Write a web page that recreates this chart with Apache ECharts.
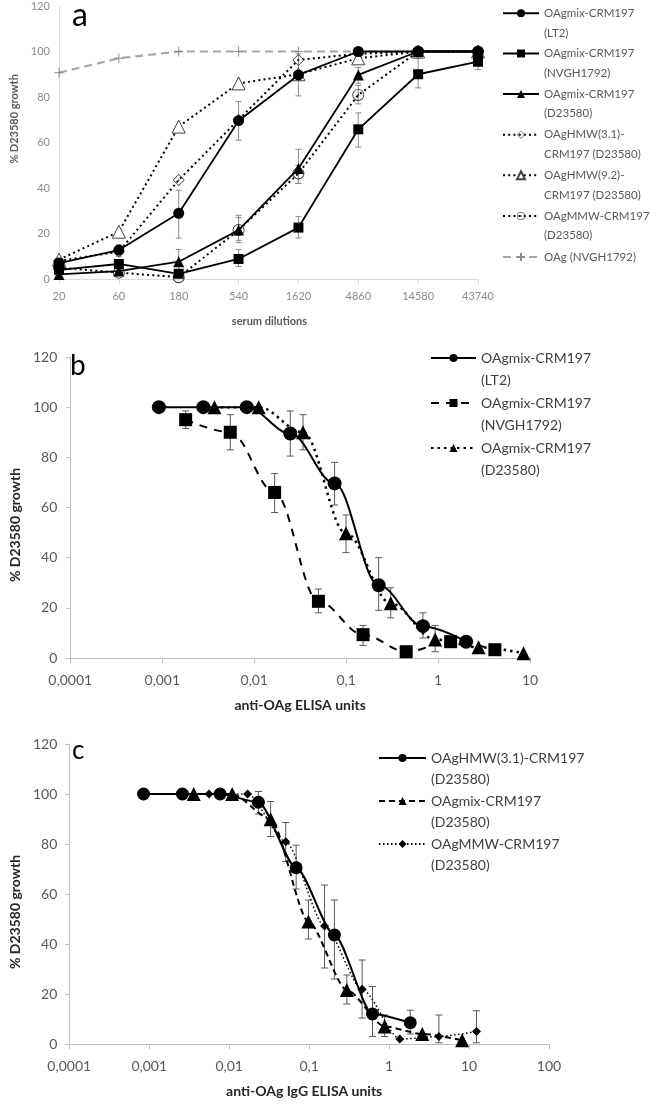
<!DOCTYPE html>
<html>
<head>
<meta charset="utf-8">
<script src="https://cdn.jsdelivr.net/npm/echarts@6/dist/echarts.min.js"></script>
<style>
html,body{margin:0;padding:0;background:#fff;}
#chart{width:650px;height:1104px;}
</style>
</head>
<body>
<div id="chart"></div>
<script>
// ---------- Panel a ----------
const dilutions = ['20','60','180','540','1620','4860','14580','43740'];
const aLT2      = [7, 12.7, 28.9, 69.6, 89.7, 100, 100, 100];
const aNVGH     = [4, 6.6, 2.3, 8.8, 22.6, 65.8, 90, 95.5];
const aD23580   = [2, 3.5, 7.6, 21.5, 48.6, 89.7, 100, 100];
const aHMW31    = [8, 12, 43.5, 70, 96.3, 99, 100, 100];
const aHMW92    = [8.5, 20.8, 67, 86, 90, 97, 100, 100];
const aMMW      = [5, 2.8, 0.8, 21.5, 46.4, 80.9, 100, 100];
const aOAg      = [90.7, 97, 100, 100, 100, 100, 100, 100];
const aLT2Err   = [null, [10,15], [18,39], [61,78], [80.5,99], null, null, null];
const aNVGHErr  = [[3,5], [4,8], [1,4], [5.5,13], [18,27.5], [58,73], [84,97], [92,99]];
const aD2Err    = [null, null, [3,13], [16,28], [42,57], [86,93], null, null];
const aMMWErr   = [null, null, null, [17,27], [42,50], [77,85], null, null];

// ---------- Panel b ----------
const bLT2x  = [0.00092, 0.0028, 0.0083, 0.0247, 0.075, 0.226, 0.685, 2.02];
const bLT2y  = [100, 100, 100, 89.5, 69.6, 29, 12.7, 6.5];
const bLT2e  = [null, null, null, [80.5,98.5], [61,78], [19,40], [8,18], [5,8]];
const bNVx   = [0.0018, 0.0055, 0.0167, 0.05, 0.153, 0.45, 1.37, 4.15];
const bNVy   = [95, 90, 66, 22.6, 9.3, 2.5, 6.5, 3.3];
const bNVe   = [[91.5,98.5], [83,97], [58,73.5], [18,27.5], [5,13], null, [5,8], null];
const bD2x   = [0.0037, 0.0112, 0.034, 0.0998, 0.306, 0.93, 2.76, 8.5];
const bD2y   = [100, 100, 90, 49.7, 21.8, 7.4, 4.3, 1.9];
const bD2e   = [null, null, [83,97], [42,57], [16,28], [2.5,13], null, null];

// ---------- Panel c ----------
const cHMWx  = [0.00085, 0.0026, 0.0077, 0.0232, 0.0688, 0.207, 0.62, 1.84];
const cHMWy  = [100, 100, 100, 96.7, 70.5, 43.6, 12, 8.5];
const cHMWe  = [null, null, null, [92,101], [62,79.5], [26,57.6], [3,23], [4,13.5]];
const cMixx  = [0.0036, 0.0109, 0.033, 0.098, 0.296, 0.88, 2.6, 8.2];
const cMixy  = [100, 100, 89.9, 49, 21.6, 7, 4, 1.5];
const cMixe  = [null, null, [83,97], [42,57.6], [16,27.6], [3,11.6], null, null];
const cMMWx  = [0.0056, 0.017, 0.051, 0.156, 0.46, 1.36, 4.2, 12.4];
const cMMWy  = [100, 100, 80.9, 47.2, 21.9, 2, 3, 5];
const cMMWe  = [null, null, [73,88.6], [30.4,63.6], [10.4,33.6], null, [0.5,11.6], [0.5,13.3]];

const FONT = 'Lato, "Open Sans", sans-serif';
const diamondDot = 'path://M0,-10L10,0L0,10L-10,0Z M0,-8.4L-8.4,0L0,8.4L8.4,0Z M-1.6,0L0,-1.6L1.6,0L0,1.6Z';
const circleDot = 'path://M-10,0A10,10,0,1,0,10,0A10,10,0,1,0,-10,0Z M-8.5,0A8.5,8.5,0,1,1,8.5,0A8.5,8.5,0,1,1,-8.5,0Z M-1.8,0A1.8,1.8,0,1,0,1.8,0A1.8,1.8,0,1,0,-1.8,0Z';
const plusSym = 'path://M0,5L10,5M5,0L5,10';

function pairs(xs, ys){ return xs.map((x,i)=>[x, ys[i]]); }

function errSeries(name, axisIdx, xs, errs, color, cap){
  const data = [];
  errs.forEach((e,i)=>{ if (e) data.push([xs[i], e[0], e[1]]); });
  return {
    type:'custom', name, xAxisIndex:axisIdx, yAxisIndex:axisIdx, data, z:1, silent:true,
    encode:{x:0, y:[1,2]},
    renderItem(params, api){
      const x = api.value(0);
      const lo = api.coord([x, api.value(1)]);
      const hi = api.coord([x, api.value(2)]);
      const st = {stroke:color, lineWidth:1};
      return {type:'group', children:[
        {type:'line', shape:{x1:lo[0], y1:lo[1], x2:hi[0], y2:hi[1]}, style:st},
        {type:'line', shape:{x1:lo[0]-cap, y1:lo[1], x2:lo[0]+cap, y2:lo[1]}, style:st},
        {type:'line', shape:{x1:hi[0]-cap, y1:hi[1], x2:hi[0]+cap, y2:hi[1]}, style:st}
      ]};
    }
  };
}

const idxA = dilutions.map((d,i)=>i);

const nA = ['OAgmix-CRM197\n(LT2)', 'OAgmix-CRM197\n(NVGH1792)', 'OAgmix-CRM197\n(D23580)',
            'OAgHMW(3.1)-\nCRM197 (D23580)', 'OAgHMW(9.2)-\nCRM197 (D23580)', 'OAgMMW-CRM197\n(D23580)', 'OAg (NVGH1792)'];
const nB = ['OAgmix-CRM197 \n(LT2)', 'OAgmix-CRM197 \n(NVGH1792)', 'OAgmix-CRM197 \n(D23580)'];
const nC = ['OAgHMW(3.1)-CRM197\n(D23580)', 'OAgmix-CRM197 \n(D23580) ', 'OAgMMW-CRM197\n(D23580)  '];

const dotted = [2, 3.2];

const series = [
  // Panel a
  errSeries('eA1', 0, idxA, aLT2Err, '#8c8c8c', 3),
  errSeries('eA2', 0, idxA, aNVGHErr, '#8c8c8c', 3),
  errSeries('eA3', 0, idxA, aD2Err, '#8c8c8c', 3),
  errSeries('eA6', 0, idxA, aMMWErr, '#8c8c8c', 3),
  {type:'line', name:nA[6], xAxisIndex:0, yAxisIndex:0, data:aOAg, symbol:plusSym, symbolSize:[9,10],
   itemStyle:{color:'transparent', borderColor:'#8c8c8c', borderWidth:1},
   lineStyle:{color:'#a6a6a6', width:2.2, type:[8,5]}, z:2},
  {type:'line', name:nA[3], xAxisIndex:0, yAxisIndex:0, data:aHMW31, symbol:diamondDot, symbolSize:12,
   itemStyle:{color:'#333'}, lineStyle:{color:'#000', width:2, type:dotted}, z:3},
  {type:'line', name:nA[4], xAxisIndex:0, yAxisIndex:0, data:aHMW92, symbol:'triangle', symbolSize:13,
   itemStyle:{color:'#fff', borderColor:'#444', borderWidth:1}, lineStyle:{color:'#000', width:2, type:dotted}, z:3},
  {type:'line', name:nA[5], xAxisIndex:0, yAxisIndex:0, data:aMMW, symbol:circleDot, symbolSize:12,
   itemStyle:{color:'#333'}, lineStyle:{color:'#000', width:2, type:dotted}, z:3},
  {type:'line', name:nA[0], xAxisIndex:0, yAxisIndex:0, data:aLT2, symbol:'circle', symbolSize:11,
   itemStyle:{color:'#000'}, lineStyle:{color:'#000', width:1.8}, z:4},
  {type:'line', name:nA[1], xAxisIndex:0, yAxisIndex:0, data:aNVGH, symbol:'rect', symbolSize:10,
   itemStyle:{color:'#000'}, lineStyle:{color:'#000', width:1.8}, z:4},
  {type:'line', name:nA[2], xAxisIndex:0, yAxisIndex:0, data:aD23580, symbol:'triangle', symbolSize:11,
   itemStyle:{color:'#000'}, lineStyle:{color:'#000', width:1.8}, z:4},

  // Panel b
  errSeries('eB1', 1, bLT2x, bLT2e, '#595959', 3.5),
  errSeries('eB2', 1, bNVx, bNVe, '#595959', 3.5),
  errSeries('eB3', 1, bD2x, bD2e, '#595959', 3.5),
  {type:'line', name:nB[0], xAxisIndex:1, yAxisIndex:1, data:pairs(bLT2x, bLT2y), smooth:0.35, smoothMonotone:'x',
   symbol:'circle', symbolSize:14, itemStyle:{color:'#000'}, lineStyle:{color:'#000', width:2}, z:4},
  {type:'line', name:nB[1], xAxisIndex:1, yAxisIndex:1, data:pairs(bNVx, bNVy), smooth:0.35, smoothMonotone:'x',
   symbol:'rect', symbolSize:13, itemStyle:{color:'#000'}, lineStyle:{color:'#000', width:2, type:[8,7]}, z:4},
  {type:'line', name:nB[2], xAxisIndex:1, yAxisIndex:1, data:pairs(bD2x, bD2y), smooth:0.35, smoothMonotone:'x',
   symbol:'triangle', symbolSize:14, itemStyle:{color:'#000'}, lineStyle:{color:'#000', width:2.5, type:[2.5,4]}, z:4},

  // Panel c
  errSeries('eC1', 2, cHMWx, cHMWe, '#595959', 3.5),
  errSeries('eC2', 2, cMixx, cMixe, '#595959', 3.5),
  errSeries('eC3', 2, cMMWx, cMMWe, '#595959', 3.5),
  {type:'line', name:nC[0], xAxisIndex:2, yAxisIndex:2, data:pairs(cHMWx, cHMWy), smooth:0.25, smoothMonotone:'x',
   symbol:'circle', symbolSize:13, itemStyle:{color:'#000'}, lineStyle:{color:'#000', width:2}, z:4},
  {type:'line', name:nC[1], xAxisIndex:2, yAxisIndex:2, data:pairs(cMixx, cMixy), smooth:0.25, smoothMonotone:'x',
   symbol:'triangle', symbolSize:14, itemStyle:{color:'#000'}, lineStyle:{color:'#000', width:2, type:[6,4]}, z:4},
  {type:'line', name:nC[2], xAxisIndex:2, yAxisIndex:2, data:pairs(cMMWx, cMMWy), smooth:0.25, smoothMonotone:'x',
   symbol:'diamond', symbolSize:9, itemStyle:{color:'#000'}, lineStyle:{color:'#000', width:1.5, type:[1.5,2.5]}, z:4}
];

function logFmt(v){ return Number(Number(v).toPrecision(4)).toString().replace('.', ','); }

// one legend per entry; the leading blank line keeps the icon level with the first text line
function legendItem(name, left, firstLineCentre, L, two, fs, color, iw){
  return {
    data:[name], left, top: two ? firstLineCentre - 1.5*L : firstLineCentre - 0.5*L,
    orient:'vertical', padding:0, itemWidth:iw, itemHeight:10, itemGap:0,
    selectedMode:false,
    formatter: two ? (n => ' \n' + n) : (n => n),
    textStyle:{fontFamily:FONT, fontSize:fs, color, lineHeight:L}
  };
}

const legends = [];
[13.3, 53.5, 94, 134.7, 175.3, 216].forEach((c,i)=>legends.push(legendItem(nA[i], 502, c, 19.5, true, 11.5, '#595959', 36)));
legends.push(legendItem(nA[6], 502, 257, 19.5, false, 11.5, '#595959', 36));
[358, 403, 448].forEach((c,i)=>legends.push(legendItem(nB[i], 430, c, 22, true, 14, '#404040', 45)));
[758, 801, 844].forEach((c,i)=>legends.push(legendItem(nC[i], 378, c, 21, true, 14, '#404040', 47)));

const option = {
  animation:false,
  backgroundColor:'#fff',
  textStyle:{fontFamily:FONT},
  grid:[
    {left:59, top:6, width:419, height:273},
    {left:62, top:357, width:468, height:301},
    {left:61, top:744, width:488, height:300}
  ],
  xAxis:[
    {gridIndex:0, type:'category', data:dilutions, boundaryGap:false,
     axisLine:{lineStyle:{color:'#d9d9d9', width:1}}, axisTick:{show:true, alignWithLabel:true, length:5, lineStyle:{color:'#d9d9d9'}},
     axisLabel:{color:'#8c8c8c', fontSize:11, margin:12, fontFamily:FONT}, splitLine:{show:false},
     name:'serum dilutions', nameLocation:'middle', nameGap:37,
     nameTextStyle:{color:'#595959', fontSize:11, fontWeight:'bold', fontFamily:FONT, padding:[0,0,0,2]}},
    {gridIndex:1, type:'log', logBase:10, min:0.0001, max:10, splitNumber:5,
     axisLine:{lineStyle:{color:'#bfbfbf', width:1}}, axisTick:{show:true, length:5, lineStyle:{color:'#bfbfbf'}},
     minorTick:{show:false}, axisLabel:{color:'#595959', fontSize:14, margin:15, formatter:logFmt, fontFamily:FONT},
     splitLine:{show:false},
     name:'anti-OAg ELISA units', nameLocation:'middle', nameGap:40,
     nameTextStyle:{color:'#262626', fontSize:14, fontWeight:'bold', fontFamily:FONT}},
    {gridIndex:2, type:'log', logBase:10, min:0.0001, max:100, splitNumber:6,
     axisLine:{lineStyle:{color:'#bfbfbf', width:1}}, axisTick:{show:true, length:5, lineStyle:{color:'#bfbfbf'}},
     minorTick:{show:false}, axisLabel:{color:'#595959', fontSize:14, margin:15, formatter:logFmt, fontFamily:FONT},
     splitLine:{show:false},
     name:'anti-OAg IgG ELISA units', nameLocation:'middle', nameGap:40,
     nameTextStyle:{color:'#262626', fontSize:14, fontWeight:'bold', fontFamily:FONT, padding:[0,10,0,0]}}
  ],
  yAxis:[
    {gridIndex:0, type:'value', min:0, max:120, interval:20,
     axisLine:{show:true, lineStyle:{color:'#d9d9d9', width:1}}, axisTick:{show:false},
     axisLabel:{color:'#8c8c8c', fontSize:11, margin:9, fontFamily:FONT}, splitLine:{show:false},
     name:'% D23580 growth', nameLocation:'middle', nameRotate:90, nameGap:36,
     nameTextStyle:{color:'#595959', fontSize:11, fontWeight:'bold', fontFamily:FONT, padding:[0,0,0,47]}},
    {gridIndex:1, type:'value', min:0, max:120, interval:20,
     axisLine:{show:true, lineStyle:{color:'#bfbfbf', width:1}}, axisTick:{show:true, length:4, lineStyle:{color:'#bfbfbf'}},
     axisLabel:{color:'#595959', fontSize:14, margin:13, fontFamily:FONT}, splitLine:{show:false},
     name:'% D23580 growth', nameLocation:'middle', nameRotate:90, nameGap:45,
     nameTextStyle:{color:'#262626', fontSize:14, fontWeight:'bold', fontFamily:FONT, padding:[0,35,0,0]}},
    {gridIndex:2, type:'value', min:0, max:120, interval:20,
     axisLine:{show:true, lineStyle:{color:'#bfbfbf', width:1}}, axisTick:{show:true, length:4, lineStyle:{color:'#bfbfbf'}},
     axisLabel:{color:'#595959', fontSize:14, margin:12, fontFamily:FONT}, splitLine:{show:false},
     name:'% D23580 growth', nameLocation:'middle', nameRotate:90, nameGap:45,
     nameTextStyle:{color:'#262626', fontSize:14, fontWeight:'bold', fontFamily:FONT, padding:[0,36,0,0]}}
  ],
  legend: legends,
  graphic:[
    {type:'text', left:72, top:0, style:{text:'a', fontSize:32, fill:'#000', fontFamily:FONT}},
    {type:'text', left:70, top:352, style:{text:'b', fontSize:28, fill:'#000', fontFamily:FONT}},
    {type:'text', left:72, top:738, style:{text:'c', fontSize:26, fill:'#000', fontFamily:FONT}}
  ],
  series
};

const chart = echarts.init(document.getElementById('chart'), null, {renderer:'canvas'});
chart.setOption(option);
</script>
</body>
</html>
